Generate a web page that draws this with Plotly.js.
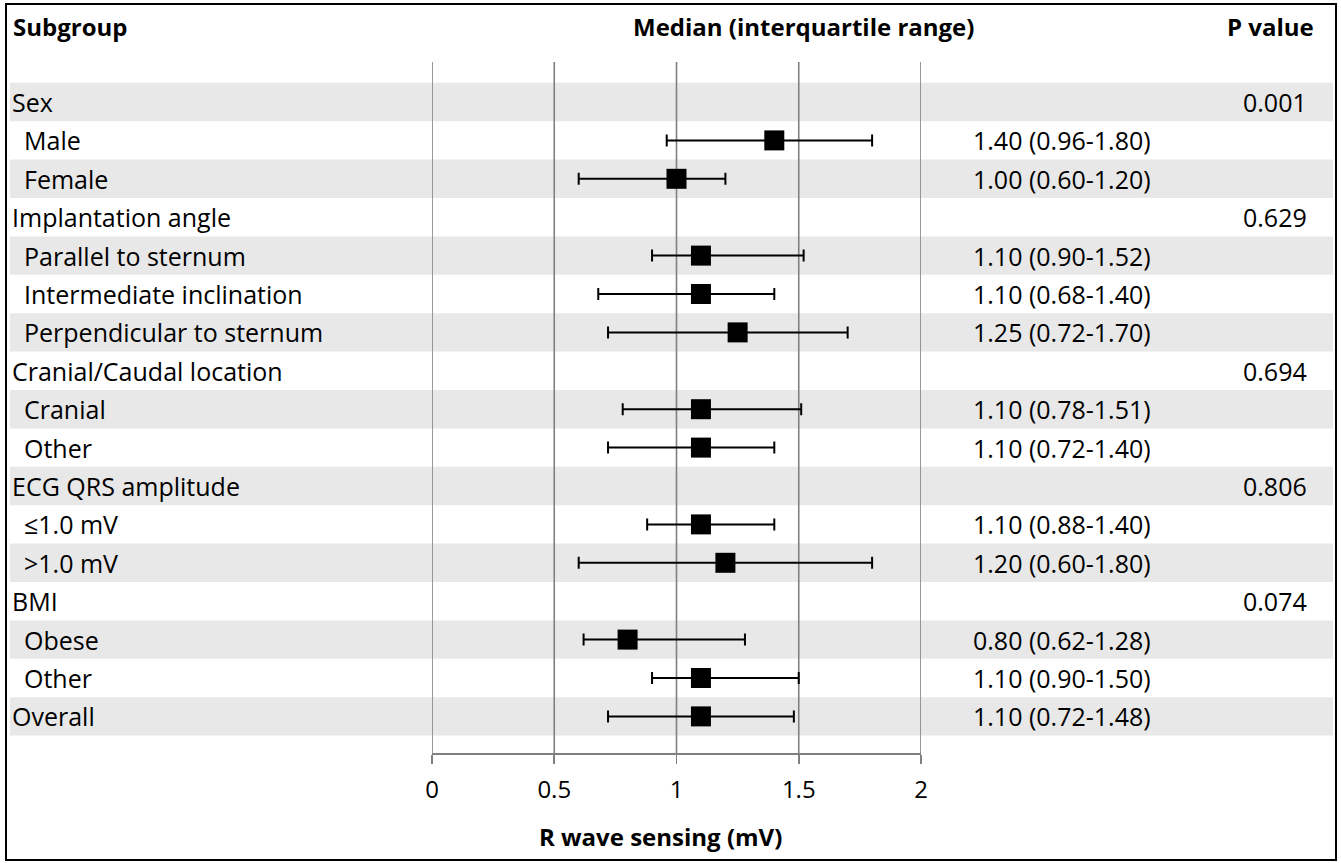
<!DOCTYPE html>
<html>
<head>
<meta charset="utf-8">
<script src="https://cdn.plot.ly/plotly-3.0.1.min.js"></script>
<style>html,body{margin:0;padding:0;background:#fff}#chart{width:1341px;height:863px}</style>
</head>
<body>
<div id="chart"></div>
<script>
// ---- data ----
const labels = ["Sex","Male","Female","Implantation angle","Parallel to sternum","Intermediate inclination","Perpendicular to sternum","Cranial/Caudal location","Cranial","Other","ECG QRS amplitude","≤1.0 mV",">1.0 mV","BMI","Obese","Other","Overall"];
const levels = [0,1,1,0,1,1,1,0,1,1,0,1,1,0,1,1,0];
const medians = [null,1.40,1.00,null,1.10,1.10,1.25,null,1.10,1.10,null,1.10,1.20,null,0.80,1.10,1.10];
const lower   = [null,0.96,0.60,null,0.90,0.68,0.72,null,0.78,0.72,null,0.88,0.60,null,0.62,0.90,0.72];
const upper   = [null,1.80,1.20,null,1.52,1.40,1.70,null,1.51,1.40,null,1.40,1.80,null,1.28,1.50,1.48];
const pvalues = ["0.001",null,null,"0.629",null,null,null,"0.694",null,null,"0.806",null,null,"0.074",null,null,null];
const tickVals = [0,0.5,1,1.5,2];
const tickText = ["0","0.5","1","1.5","2"];

// ---- layout helpers ----
const W = 1341, H = 863;
const FONT = "'Open Sans', 'Noto Sans', sans-serif";
const px = v => v / W;
const py = v => 1 - v / H;
const rows = labels.map((_, i) => i);
const GRID = "#808080";

const trace = {
  type: "scatter", mode: "markers",
  x: medians, y: rows,
  marker: {symbol: "square", size: 20, color: "#000"},
  error_x: {
    type: "data", symmetric: false,
    array: medians.map((m, i) => m == null ? null : upper[i] - m),
    arrayminus: medians.map((m, i) => m == null ? null : m - lower[i]),
    color: "#000", thickness: 2, width: 6
  },
  hoverinfo: "skip", showlegend: false
};

const yTopPx = 62, yBotPx = 753, row0Px = 102, rowStep = 38.4;
const yTopVal = (yTopPx - row0Px) / rowStep, yBotVal = (yBotPx - row0Px) / rowStep;

const shapes = [];
rows.forEach(i => {
  if (i % 2 === 0) {
    shapes.push({type: "rect", layer: "below", xref: "paper", yref: "y",
      x0: px(10), x1: px(1333), y0: i - 0.5, y1: i + 0.5,
      fillcolor: "#e8e8e8", line: {width: 0}});
  }
});
// vertical reference lines at every tick (incl. the 0 and 2 edges)
tickVals.forEach(v => {
  shapes.push({type: "line", layer: "below", xref: "x", yref: "y",
    x0: v, x1: v, y0: yTopVal, y1: yBotVal, line: {color: GRID, width: 1.6}});
});
// outer border
shapes.push({type: "rect", xref: "paper", yref: "paper",
  x0: px(6), x1: px(1336), y0: py(860), y1: py(4),
  line: {color: "#000", width: 2}, fillcolor: "rgba(0,0,0,0)"});

const annotations = [];
const SZ = 25;
const txtFont = {family: FONT, size: SZ, color: "#000"};
labels.forEach((lab, i) => {
  annotations.push({xref: "paper", yref: "y", x: px(levels[i] ? 22 : 10), y: i,
    text: lab, showarrow: false, xanchor: "left", yanchor: "middle", font: txtFont});
  if (medians[i] != null) {
    annotations.push({xref: "paper", yref: "y", x: px(971), y: i,
      text: medians[i].toFixed(2) + " (" + lower[i].toFixed(2) + "-" + upper[i].toFixed(2) + ")",
      showarrow: false, xanchor: "left", yanchor: "middle", font: txtFont});
  }
  if (pvalues[i] != null) {
    annotations.push({xref: "paper", yref: "y", x: px(1309), y: i,
      text: pvalues[i], showarrow: false, xanchor: "right", yanchor: "middle", font: txtFont});
  }
});
const hdrFont = {family: FONT, size: 24, color: "#000"};
annotations.push({xref: "paper", yref: "paper", x: px(11), y: py(27), text: "<b>Subgroup</b>",
  showarrow: false, xanchor: "left", yanchor: "middle", font: hdrFont});
annotations.push({xref: "paper", yref: "paper", x: px(803), y: py(27), text: "<b>Median (interquartile range)</b>",
  showarrow: false, xanchor: "center", yanchor: "middle", font: hdrFont});
annotations.push({xref: "paper", yref: "paper", x: px(1316), y: py(27), text: "<b>P value</b>",
  showarrow: false, xanchor: "right", yanchor: "middle", font: hdrFont});
// x-axis title (sits left of the axis centre in the original)
annotations.push({xref: "paper", yref: "paper", x: px(660), y: py(836), text: "<b>R wave sensing (mV)</b>",
  showarrow: false, xanchor: "center", yanchor: "middle", font: hdrFont});

const layout = {
  width: W, height: H,
  margin: {l: 0, r: 0, t: 0, b: 0},
  paper_bgcolor: "#fff", plot_bgcolor: "rgba(0,0,0,0)",
  xaxis: {
    domain: [px(432), px(921)], range: [0, 2],
    tickvals: tickVals, ticktext: tickText,
    showgrid: false,
    showline: true, linecolor: GRID, linewidth: 1.6,
    ticks: "outside", ticklen: 9, tickwidth: 1.6, tickcolor: GRID,
    ticklabelstandoff: 6,
    zeroline: false, fixedrange: true,
    tickfont: {family: FONT, size: 24, color: "#000"}
  },
  yaxis: {
    domain: [1 - yBotPx / H, 1 - yTopPx / H],
    range: [yBotVal, yTopVal],
    visible: false, fixedrange: true
  },
  shapes: shapes,
  annotations: annotations
};

Plotly.newPlot("chart", [trace], layout, {displayModeBar: false, staticPlot: true});
</script>
</body>
</html>
